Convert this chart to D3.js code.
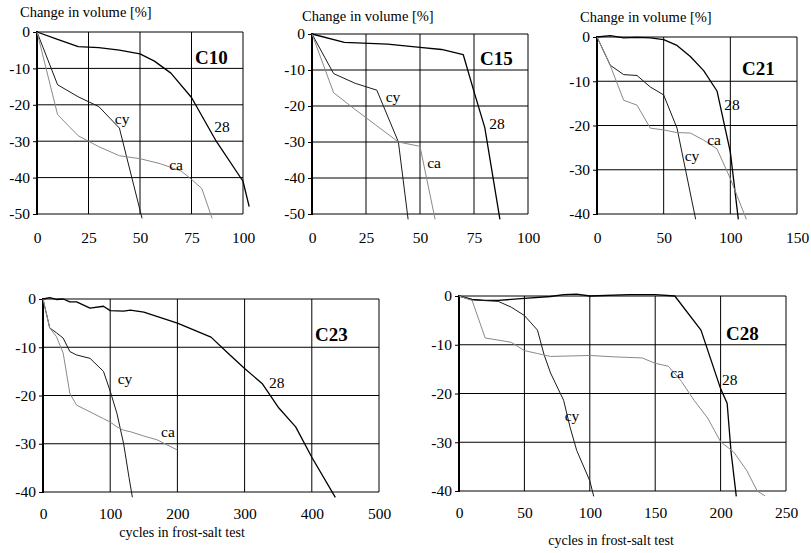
<!DOCTYPE html>
<html>
<head>
<meta charset="utf-8">
<script src="https://cdn.jsdelivr.net/npm/d3@7"></script>
<style>
  body { margin: 0; background: #fff; }
  svg { display: block; }
  svg text { font-family: "Liberation Serif", "Times New Roman", "DejaVu Serif", serif; fill: #000; }
</style>
</head>
<body>
<svg id="chart" width="811" height="553"></svg>
<script>
// volume change (%) vs frost-salt cycles
const seriesNames = ['28', 'cy', 'ca'];

const c10_28 = [[0,0],[10,-2],[20,-4],[30,-4.3],[40,-5],[50,-6],[57,-8],[65,-11.3],[75,-18],[87,-30],[100,-41],[103,-48]];
const c10_cy = [[0,0],[10,-14.5],[20,-17.8],[30,-20.5],[40,-26.4],[51,-51.2]];
const c10_ca = [[0,0],[10,-22.7],[20,-28.5],[30,-31.5],[40,-34],[50,-34.8],[60,-36.2],[70,-38.2],[75,-40.5],[80,-43],[85,-51.2]];

const c15_28 = [[0,0],[15,-2.3],[35,-2.8],[50,-3.7],[60,-4.3],[70,-5.7],[75,-16],[80,-26],[87,-51.5]];
const c15_cy = [[0,0],[10,-11],[20,-13.7],[30,-15.6],[40,-30],[44.5,-51.5]];
const c15_ca = [[0,0],[10,-16.3],[20,-21],[30,-25.5],[40,-30],[50,-31.2],[57,-51.5]];

const c21_28 = [[0,0],[10,0.3],[20,-0.2],[30,-0.1],[40,-0.2],[50,-0.6],[60,-1.9],[70,-4.4],[80,-7.6],[90,-12.2],[100,-26],[106,-41.2]];
const c21_cy = [[0,0],[10,-6.4],[20,-8.5],[30,-8.7],[40,-11.3],[50,-13.1],[60,-20.6],[74,-41.2]];
const c21_ca = [[0,0],[10,-6.5],[20,-14.3],[30,-15.4],[40,-20.6],[50,-21],[60,-21.6],[70,-21.7],[80,-23.3],[90,-25.3],[100,-32],[112,-41.2]];

const c23_28 = [[0,0],[10,0.3],[20,-0.1],[30,0],[40,-0.6],[50,-0.6],[70,-1.9],[90,-1.5],[100,-2.4],[120,-2.5],[130,-2.3],[150,-2.7],[200,-5],[250,-7.9],[275,-11.2],[300,-14.4],[326,-17.5],[351,-22.6],[376,-26.5],[400,-32.8],[435,-41.1]];
const c23_cy = [[0,0],[10,-6],[20,-7],[30,-8.1],[40,-10.9],[50,-11.6],[70,-12.3],[90,-15],[100,-19.1],[110,-23.7],[120,-30],[128,-37],[133,-41.1]];
const c23_ca = [[0,0],[10,-6],[20,-7.8],[30,-11.2],[40,-19.6],[50,-22],[70,-23.4],[90,-24.8],[100,-25.5],[110,-26.5],[120,-27.2],[130,-27.5],[150,-28.4],[170,-29.2],[200,-31.3]];

const c28_28 = [[0,0],[10,-0.7],[20,-0.9],[30,-0.9],[50,-0.5],[70,-0.1],[80,0.3],[90,0.4],[100,0],[130,0.3],[150,0.3],[165,0],[185,-7],[200,-19],[205,-22],[208,-32],[212,-41.1]];
const c28_cy = [[0,0],[10,-0.8],[30,-1.1],[40,-2.3],[50,-4],[60,-7],[65,-12],[70,-15.8],[80,-21.4],[85,-27],[90,-31.7],[100,-37.9],[103,-41.1]];
const c28_ca = [[0,0],[10,-0.9],[20,-8.6],[40,-9.5],[50,-11.2],[60,-11.8],[70,-12.4],[100,-12.2],[120,-12.5],[140,-12.7],[150,-13.8],[160,-14.4],[170,-17.5],[180,-21.5],[190,-25],[200,-29.9],[210,-32],[220,-35.8],[228,-40],[234,-41]];

// where each curve name sits, in data units [x, y]
const c10_labels = [[89.8,-26.1],[41.3,-23.9],[67.5,-36.5]];
const c15_labels = [[85.6,-25],[37.5,-17.5],[56.5,-35.8]];
const c21_labels = [[101.3,-15.4],[71.3,-26.9],[87.8,-23.3]];
const c23_labels = [[348,-17.4],[122,-16.6],[186,-27.6]];
const c28_labels = [[207,-17.2],[86.4,-24.6],[166.7,-15.8]];

const xTicks10 = [0,25,50,75,100];
const xTicks21 = [0,50,100,150];
const xTicks23 = [0,100,200,300,400,500];
const xTicks28 = [0,50,100,150,200,250];
const yTicks50 = [0,-10,-20,-30,-40,-50];
const yTicks40 = [0,-10,-20,-30,-40];

const yTitle = 'Change in volume [%]';
const xTitle = 'cycles in frost-salt test';

// layout of the five panels
const panels = [
  {name:'C10', series:[c10_28,c10_cy,c10_ca], labels:c10_labels, xt:xTicks10, yt:yTicks50,
   box:{l:37,r:243,t:32,b:214}, pad:18, nameAt:[195,64], yTitleAt:[20,17]},
  {name:'C15', series:[c15_28,c15_cy,c15_ca], labels:c15_labels, xt:xTicks10, yt:yTicks50,
   box:{l:312,r:528,t:34,b:214}, pad:18, nameAt:[480,65], yTitleAt:[302,21]},
  {name:'C21', series:[c21_28,c21_cy,c21_ca], labels:c21_labels, xt:xTicks21, yt:yTicks40,
   box:{l:597,r:797,t:37,b:214}, pad:18, nameAt:[742,75], yTitleAt:[580,22]},
  {name:'C23', series:[c23_28,c23_cy,c23_ca], labels:c23_labels, xt:xTicks23, yt:yTicks40,
   box:{l:43,r:379,t:299,b:492}, pad:16, nameAt:[315,341], xTitleAt:[182,537]},
  {name:'C28', series:[c28_28,c28_cy,c28_ca], labels:c28_labels, xt:xTicks28, yt:yTicks40,
   box:{l:459,r:786,t:296,b:491}, pad:16, nameAt:[726,340], xTitleAt:[611,545]}
];

const colors = {'28':'#000', 'cy':'#1a1a1a', 'ca':'#8a8a8a'};
const widths = {'28':1.3, 'cy':1, 'ca':1};

const svg = d3.select('#chart');

panels.forEach(p => {
  const x = d3.scaleLinear().domain(d3.extent(p.xt)).range([p.box.l, p.box.r]);
  const y = d3.scaleLinear().domain(d3.extent(p.yt)).range([p.box.b, p.box.t]);
  const g = svg.append('g').attr('class','panel');

  // grid
  g.selectAll('.vg').data(p.xt.slice(1)).enter().append('line')
    .attr('x1', d => x(d)).attr('x2', d => x(d))
    .attr('y1', p.box.t).attr('y2', p.box.b)
    .attr('stroke','#000').attr('stroke-width',1);
  g.selectAll('.hg').data(p.yt).enter().append('line')
    .attr('x1', p.box.l).attr('x2', p.box.r)
    .attr('y1', d => y(d)).attr('y2', d => y(d))
    .attr('stroke','#000').attr('stroke-width',1);

  // axes
  const ya = g.append('g').attr('transform','translate('+p.box.l+',0)')
    .call(d3.axisLeft(y).tickValues(p.yt).tickSize(4).tickPadding(3).tickFormat(d => String(d)));
  const xa = g.append('g').attr('transform','translate(0,'+p.box.b+')')
    .call(d3.axisBottom(x).tickValues(p.xt).tickSize(0).tickPadding(p.pad).tickFormat(d => String(d)));
  [ya, xa].forEach(a => {
    a.attr('font-family', null).attr('font-size', null);
    a.select('.domain').remove();
    a.selectAll('text').style('font-size','15.5px');
    a.selectAll('line').attr('stroke','#000');
  });
  g.append('line')
    .attr('x1', p.box.l).attr('x2', p.box.l)
    .attr('y1', p.box.t - 1).attr('y2', p.box.b + 1)
    .attr('stroke','#000').attr('stroke-width',2);

  // curves
  const line = d3.line().x(d => x(d[0])).y(d => y(d[1]));
  p.series.forEach((s, i) => {
    const nm = seriesNames[i];
    g.append('path').datum(s)
      .attr('d', line)
      .attr('fill','none')
      .attr('stroke', colors[nm])
      .attr('stroke-width', widths[nm])
      .attr('stroke-linejoin','round');
  });

  // curve names
  g.selectAll('.lbl').data(p.labels).enter().append('text')
    .attr('x', d => x(d[0])).attr('y', d => y(d[1]))
    .attr('dy','0.32em')
    .attr('text-anchor','middle')
    .style('font-size','15.5px')
    .text((d, i) => seriesNames[i]);

  g.append('text')
    .attr('x', p.nameAt[0]).attr('y', p.nameAt[1])
    .style('font-size','19px').style('font-weight','bold')
    .text(p.name);

  if (p.yTitleAt) {
    g.append('text').attr('x', p.yTitleAt[0]).attr('y', p.yTitleAt[1])
      .style('font-size','14.5px').text(yTitle);
  }
  if (p.xTitleAt) {
    g.append('text').attr('x', p.xTitleAt[0]).attr('y', p.xTitleAt[1])
      .attr('text-anchor','middle').style('font-size','14px').text(xTitle);
  }
});
</script>
</body>
</html>
